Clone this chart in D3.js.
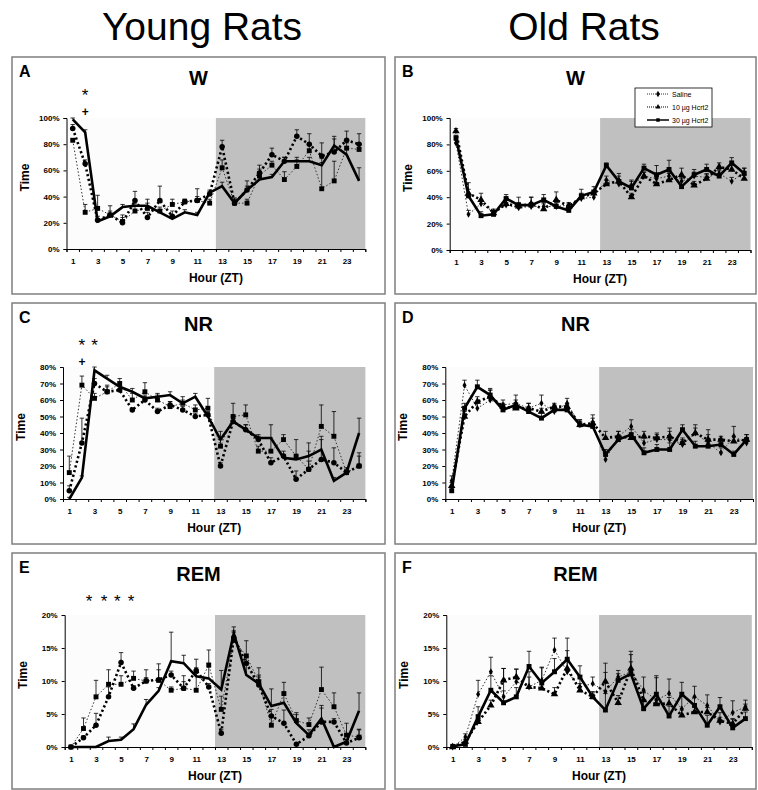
<!DOCTYPE html>
<meta charset="utf-8">
<style>
    body { margin: 0; background: #fff; }
    text { font-family: "Liberation Sans", Arial, sans-serif; }
    .tick text { font-size: 8px; font-weight: bold; }
    .axis path, .axis line { stroke: #000; }
</style>
<script src="https://d3js.org/d3.v7.min.js"></script>
<svg width="758" height="790"></svg>
<script>
    var hours = d3.range(1, 25);
    var groups = ["Saline", "10 \u00b5g Hcrt2", "30 \u00b5g Hcrt2"];

    // A - young, wake
    var aSaline = [83, 28, 31, 26, 21, 29, 31, 29, 34, 36, 37, 35, 62, 35, 35, 56, 64, 53, 63, 75, 46, 52, 77, 76];
    var aLow = [92, 65, 22, 26, 20, 37, 24, 37, 25, 36, 37, 42, 78, 35, 45, 58, 72, 67, 86, 80, 71, 74, 83, 80];
    var aHigh = [99, 89, 21, 25, 32, 33, 33, 28, 23, 28, 26, 43, 48, 35, 45, 53, 55, 67, 67, 67, 64, 79, 72, 52];
    var aSalineErr = [0, 6, 10, 3, 5, 4, 7, 3, 4, 2, 9, 3, 6, 4, 3, 5, 3, 6, 5, 4, 20, 15, 4, 4];
    var aLowErr = [3, 3, 3, 7, 4, 7, 4, 11, 4, 2, 3, 2, 5, 3, 7, 6, 5, 3, 5, 8, 10, 12, 7, 8];
    var aHighErr = [1, 2, 2, 2, 2, 2, 2, 2, 2, 2, 2, 2, 3, 3, 3, 2, 2, 3, 3, 3, 5, 5, 5, 10];

    // B - old, wake
    var bSaline = [81, 27, 35, 29, 34, 32, 33, 33, 33, 34, 39, 40, 53, 50, 49, 56, 54, 56, 52, 56, 55, 58, 52, 59];
    var bLow = [90, 43, 38, 28, 35, 33, 35, 31, 38, 33, 40, 43, 50, 52, 40, 56, 50, 53, 57, 49, 54, 63, 61, 54];
    var bHigh = [85, 41, 26, 27, 39, 34, 34, 38, 33, 30, 41, 44, 64, 52, 47, 62, 57, 61, 48, 57, 61, 56, 66, 58];
    var bSalineErr = [2, 3, 2, 2, 2, 3, 3, 3, 2, 2, 2, 2, 3, 3, 3, 3, 3, 3, 3, 3, 3, 3, 3, 3];
    var bLowErr = [2, 3, 5, 2, 3, 3, 5, 4, 6, 2, 3, 2, 3, 4, 3, 3, 5, 5, 5, 3, 3, 3, 3, 3];
    var bHighErr = [2, 10, 3, 3, 3, 6, 6, 4, 3, 3, 5, 4, 2, 6, 6, 3, 7, 7, 6, 4, 4, 4, 4, 4];

    // C - young, NREM
    var cSaline = [16, 69, 61, 65, 70, 60, 65, 60, 56, 58, 54, 55, 32, 50, 51, 29, 29, 36, 26, 18, 44, 38, 16, 20];
    var cLow = [5, 34, 70, 65, 66, 54, 60, 53, 57, 54, 50, 51, 20, 47, 42, 36, 22, 26, 12, 18, 24, 22, 16, 20];
    var cHigh = [0, 13, 78, 73, 68, 65, 61, 62, 63, 58, 62, 50, 36, 47, 42, 37, 37, 25, 24, 26, 30, 11, 16, 40];
    var cSalineErr = [10, 5.5, 3, 4, 3, 4, 5.5, 3, 3, 4, 3, 6, 4, 8, 6, 3, 8, 3, 10, 16, 13, 15, 3, 8];
    var cLowErr = [3, 15, 3, 3, 3, 1, 2, 2, 2, 2, 2, 2, 2, 3, 3, 2, 3, 3, 5, 5, 14, 9, 2, 6];
    var cHighErr = [1, 1, 2, 2, 2, 2, 2, 2, 2, 2, 2, 2, 5, 3, 3, 2, 8, 2, 2, 3, 6, 2, 2, 9];

    // D - old, NREM
    var dSaline = [11, 69, 55, 60, 57, 58, 55, 58, 53, 58, 45, 45, 24, 38, 44, 34, 36, 36, 33, 40, 34, 28, 38, 34];
    var dLow = [8, 50, 59, 62, 56, 55, 55, 53, 56, 56, 45, 46, 37, 38, 37, 38, 37, 38, 34, 40, 36, 36, 35, 36];
    var dHigh = [5, 55, 68, 63, 54, 57, 53, 49, 54, 54, 45, 44, 27, 36, 39, 28, 30, 30, 42, 32, 32, 33, 27, 36];
    var dSalineErr = [3, 3, 3, 6, 3, 5, 3, 5, 3, 3, 3, 6, 5, 3, 4, 3, 3, 7, 3, 5, 8, 3, 6, 3];
    var dLowErr = [2, 3, 3, 4, 2, 3, 3, 2, 2, 2, 2, 3, 4, 3, 3, 3, 3, 3, 3, 3, 3, 2, 3, 3];
    var dHighErr = [2, 3, 4, 4, 3, 3, 3, 3, 3, 3, 3, 3, 3, 2, 3, 3, 3, 4, 3, 3, 3, 2, 2, 3];

    // E - young, REM
    var eSaline = [0, 2.8, 7.6, 9.5, 9.5, 10.4, 10, 10.1, 8.6, 8.9, 8.6, 12.4, 5.7, 16.2, 13.8, 9.9, 3.3, 8.1, 4, 3.4, 8.7, 6.1, 1.8, 1.5];
    var eLow = [0, 1.4, 3.3, 7.6, 12.8, 8.9, 10, 10.2, 10.9, 8.9, 11.6, 9.1, 2.1, 16.6, 12.7, 9.4, 4.7, 3.6, 0.4, 1.7, 3.8, 3.8, 0.6, 1.4];
    var eHigh = [0, 0, 0, 0.9, 1.1, 2.7, 6.4, 8.5, 13, 12.7, 10.7, 10.4, 8.7, 17.2, 10.9, 9.6, 6.2, 6.7, 3.6, 1.8, 4.3, 0, 0.8, 5.5];
    var eSalineErr = [0, 1.6, 2.5, 2.2, 1.3, 1.1, 1.7, 2.5, 0.5, 1.9, 3.4, 2.3, 2, 1.2, 2.3, 2.1, 1.2, 1.7, 1.2, 1, 3.4, 2.1, 1.8, 1.2];
    var eLowErr = [0, 0.3, 1.8, 1.5, 1.5, 0.4, 0.5, 1.5, 0.6, 1, 1.7, 0.5, 0.5, 1, 1, 1.2, 1, 2, 0.2, 0.3, 2.1, 0.5, 0.5, 1.2];
    var eHighErr = [0, 0, 0, 0.6, 0.4, 0.8, 0.8, 0.5, 4.4, 1.2, 0.5, 2.3, 2.9, 1, 1.5, 1.3, 2.6, 1.5, 1.3, 0.8, 2, 0.2, 0.3, 2.7];

    // F - old, REM
    var fSaline = [0, 1.5, 8, 11.4, 7.6, 9.9, 9.1, 10.1, 14.7, 11.4, 9.1, 9.6, 8.4, 10.6, 11.4, 8.6, 7.1, 8.1, 5.8, 7.6, 6.3, 3.8, 5.2, 6.1];
    var fLow = [0, 0.8, 3.8, 6.3, 10.1, 10.6, 9.1, 8.9, 8, 11.9, 8.6, 7.6, 9.9, 6.7, 11.9, 7.1, 6.5, 6.6, 4.8, 5.3, 5.3, 4, 3.5, 5.8];
    var fHigh = [0.1, 0.4, 4.6, 8.6, 6.7, 7.6, 12.2, 9.7, 11.4, 13.3, 10.6, 7.6, 5.6, 10.1, 11.1, 5.8, 8, 4.7, 8, 6.3, 3.3, 6.1, 2.9, 4.3];
    var fSalineErr = [0, 0.5, 2.1, 2.2, 4.3, 1.9, 2.3, 2, 1.8, 3.2, 1.7, 1, 4.3, 1, 2.6, 2, 3.7, 2.2, 1.9, 1.6, 1.6, 1.4, 1.8, 1];
    var fLowErr = [0, 0.3, 1, 0.8, 1.8, 1.2, 1.5, 1, 1, 1.2, 1, 0.6, 1.4, 1.1, 1, 1.1, 0.8, 0.9, 0.8, 0.7, 0.7, 0.5, 0.7, 0.7];
    var fHighErr = [0, 0.3, 1.5, 2.2, 1.8, 1.4, 2.3, 2.3, 2, 3.2, 1.7, 0.8, 2.5, 1, 3.4, 2.5, 2.5, 1.5, 1.8, 1.2, 1.5, 1.4, 1.4, 1];

    var svg = d3.select("svg");

    // column headers
    svg.append("text").attr("x", 202).attr("y", 40).attr("text-anchor", "middle")
        .style("font-size", "39px").text("Young Rats");
    svg.append("text").attr("x", 584).attr("y", 40).attr("text-anchor", "middle")
        .style("font-size", "39px").text("Old Rats");

    // line styles for the three groups
    var styles = [
        {width: 1, dash: "1.5,2", color: "#333"},
        {width: 2.6, dash: "2.2,2.6", color: "#000"},
        {width: 2.6, dash: null, color: "#000"}
    ];

    var panels = [
        {id: "A", title: "W", box: [12, 57, 385, 294], x: [66.5, 365.3], y: [118, 249], max: 100, step: 20,
            data: [aSaline, aLow, aHigh], err: [aSalineErr, aLowErr, aHighErr],
            marks: [d3.symbolSquare, d3.symbolCircle, null],
            stars: [2], plus: [2], starY: 101},
        {id: "B", title: "W", box: [395, 57, 756, 294], x: [449.7, 750.5], y: [118, 250], max: 100, step: 20,
            data: [bSaline, bLow, bHigh], err: [bSalineErr, bLowErr, bHighErr],
            marks: [d3.symbolDiamond, d3.symbolTriangle, d3.symbolSquare], legend: true},
        {id: "C", title: "NR", box: [12, 303, 385, 544], x: [63, 365.4], y: [367, 499], max: 80, step: 10,
            data: [cSaline, cLow, cHigh], err: [cSalineErr, cLowErr, cHighErr],
            marks: [d3.symbolSquare, d3.symbolCircle, null],
            stars: [2, 3], plus: [2], starY: 351},
        {id: "D", title: "NR", box: [395, 303, 756, 544], x: [445.3, 753], y: [367, 499], max: 80, step: 10,
            data: [dSaline, dLow, dHigh], err: [dSalineErr, dLowErr, dHighErr],
            marks: [d3.symbolDiamond, d3.symbolTriangle, d3.symbolSquare]},
        {id: "E", title: "REM", box: [12, 553, 385, 789], x: [64.7, 365.3], y: [615, 747], max: 20, step: 5,
            data: [eSaline, eLow, eHigh], err: [eSalineErr, eLowErr, eHighErr],
            marks: [d3.symbolSquare, d3.symbolCircle, null],
            stars: [2.45, 3.65, 4.7, 5.8], plus: [], starY: 607},
        {id: "F", title: "REM", box: [395, 553, 756, 789], x: [446.3, 751.8], y: [615, 747], max: 20, step: 5,
            data: [fSaline, fLow, fHigh], err: [fSalineErr, fLowErr, fHighErr],
            marks: [d3.symbolDiamond, d3.symbolTriangle, d3.symbolSquare]}
    ];

    panels.forEach(function (p) {
        var g = svg.append("g");
        var b = p.box;
        g.append("rect").attr("x", b[0]).attr("y", b[1])
            .attr("width", b[2] - b[0]).attr("height", b[3] - b[1])
            .attr("fill", "none").attr("stroke", "#7f7f7f").attr("stroke-width", 1.5);

        var x = d3.scaleLinear().domain([0.5, 24.5]).range(p.x);
        var y = d3.scaleLinear().domain([0, p.max]).range([p.y[1], p.y[0]]);

        // panel letter and title
        g.append("text").attr("x", b[0] + 7).attr("y", b[1] + 20)
            .style("font-size", "16px").style("font-weight", "bold").text(p.id);
        g.append("text").attr("x", (b[0] + b[2]) / 2).attr("y", b[1] + 28)
            .attr("text-anchor", "middle")
            .style("font-size", "20px").style("font-weight", "bold").text(p.title);

        // plot background: light period and dark period
        g.append("rect").attr("x", x(0.5)).attr("y", y(p.max))
            .attr("width", x(12.5) - x(0.5)).attr("height", y(0) - y(p.max)).attr("fill", "#fcfcfc");
        g.append("rect").attr("x", x(12.5)).attr("y", y(p.max))
            .attr("width", x(24.5) - x(12.5)).attr("height", y(0) - y(p.max)).attr("fill", "#c0c0c0");

        // axes
        g.append("g").attr("class", "axis")
            .attr("transform", "translate(" + x(0.5) + ",0)")
            .call(d3.axisLeft(y).tickValues(d3.range(0, p.max + 1, p.step))
                .tickFormat(function (d) { return d + "%"; }).tickSize(3).tickPadding(4));
        g.append("g").attr("class", "axis")
            .attr("transform", "translate(0," + y(0) + ")")
            .call(d3.axisBottom(x).tickValues(d3.range(0.5, 25, 1)).tickFormat("").tickSize(3));
        g.append("g").attr("class", "axis")
            .attr("transform", "translate(0," + y(0) + ")")
            .call(d3.axisBottom(x).tickValues(d3.range(1, 24, 2)).tickSize(0).tickPadding(9))
            .select(".domain").remove();

        g.append("text")
            .attr("transform", "translate(" + (x(0.5) - 38) + "," + ((p.y[0] + p.y[1]) / 2 - 6) + ") rotate(-90)")
            .attr("text-anchor", "middle")
            .style("font-size", "12px").style("font-weight", "bold").text("Time");
        g.append("text").attr("x", (p.x[0] + p.x[1]) / 2).attr("y", y(0) + 33)
            .attr("text-anchor", "middle")
            .style("font-size", "12px").style("font-weight", "bold").text("Hour (ZT)");

        // error bars (upper only)
        p.data.forEach(function (vals, k) {
            var eg = g.append("g").attr("stroke", "#000").attr("stroke-width", 0.8);
            hours.forEach(function (h, i) {
                var e = p.err[k][i];
                if (!e) return;
                eg.append("line").attr("x1", x(h)).attr("x2", x(h))
                    .attr("y1", y(vals[i])).attr("y2", y(vals[i] + e));
                eg.append("line").attr("x1", x(h) - 2.2).attr("x2", x(h) + 2.2)
                    .attr("y1", y(vals[i] + e)).attr("y2", y(vals[i] + e));
            });
        });

        // lines
        var line = d3.line()
            .x(function (d, i) { return x(hours[i]); })
            .y(function (d) { return y(d); });
        p.data.forEach(function (vals, k) {
            var s = styles[k];
            g.append("path").datum(vals)
                .attr("d", line).attr("fill", "none")
                .attr("stroke", s.color).attr("stroke-width", s.width)
                .attr("stroke-dasharray", s.dash);
        });

        // markers
        p.data.forEach(function (vals, k) {
            if (!p.marks[k]) return;
            var sym = d3.symbol().type(p.marks[k]).size(p.marks[k] === d3.symbolDiamond ? 14 : 24);
            g.append("g").selectAll("path").data(vals).enter().append("path")
                .attr("d", sym)
                .attr("transform", function (d, i) { return "translate(" + x(hours[i]) + "," + y(d) + ")"; })
                .attr("fill", "#000");
        });

        // significance marks: asterisks, with a "+" below where given
        if (p.stars) {
            p.stars.forEach(function (h) {
                g.append("text").attr("x", x(h)).attr("y", p.starY)
                    .attr("text-anchor", "middle")
                    .style("font-size", "17px").text("*");
            });
            p.plus.forEach(function (h) {
                g.append("text").attr("x", x(h)).attr("y", p.starY + 15)
                    .attr("text-anchor", "middle")
                    .style("font-size", "12px").style("font-weight", "bold").text("+");
            });
        }

        // legend
        if (p.legend) {
            var lg = g.append("g").attr("transform", "translate(635,88)");
            lg.append("rect").attr("width", 77).attr("height", 39)
                .attr("fill", "#fff").attr("stroke", "#000").attr("stroke-width", 0.8);
            groups.forEach(function (name, k) {
                var ly = 6 + k * 13;
                var s = styles[k];
                lg.append("line").attr("x1", 12).attr("x2", 34).attr("y1", ly).attr("y2", ly)
                    .attr("stroke", s.color).attr("stroke-width", k === 2 ? 1.5 : 1)
                    .attr("stroke-dasharray", s.dash ? "1,1" : null);
                lg.append("path").attr("d", d3.symbol().type(p.marks[k]).size(12))
                    .attr("transform", "translate(23," + ly + ")");
                lg.append("text").attr("x", 37).attr("y", ly + 2.5)
                    .style("font-size", "7px").text(name);
            });
        }
    });
</script>
